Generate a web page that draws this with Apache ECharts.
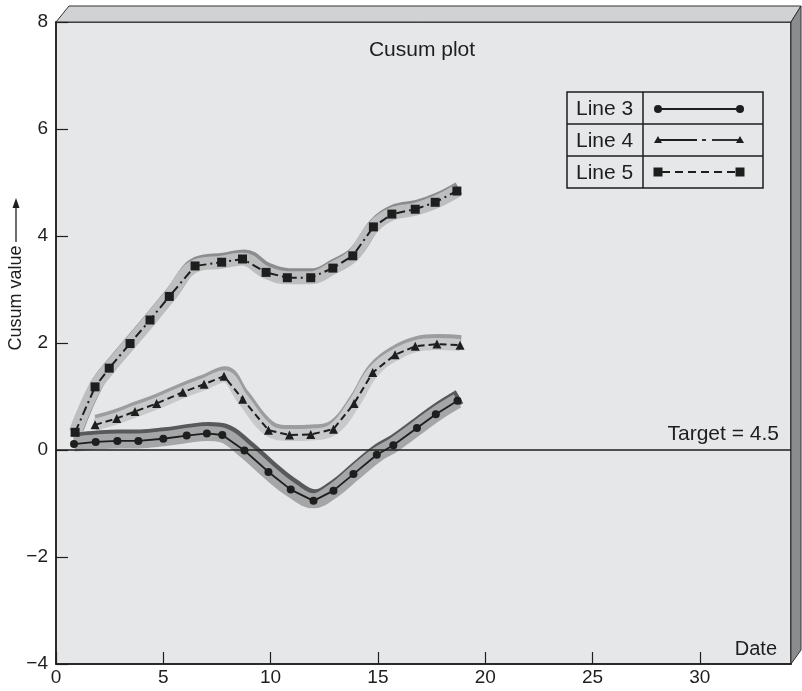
<!DOCTYPE html>
<html><head><meta charset="utf-8">
<script src="https://cdn.jsdelivr.net/npm/echarts@6/dist/echarts.min.js"></script>
<style>html,body{margin:0;padding:0;background:#fff}#c{width:802px;height:691px}</style>
</head><body><div id="c"></div>
<script>
// ---- data ----
const xTickValues = [0, 5, 10, 15, 20, 25, 30];
const yTickValues = [-4, -2, 0, 2, 4, 6, 8];
const line3 = [[0.84,0.11],[1.85,0.15],[2.86,0.17],[3.84,0.17],[5.0,0.21],[6.09,0.27],[7.03,0.31],[7.75,0.28],[8.78,-0.01],[9.9,-0.41],[10.94,-0.74],[12.0,-0.95],[12.93,-0.76],[13.86,-0.45],[14.95,-0.09],[15.72,0.09],[16.82,0.41],[17.7,0.67],[18.71,0.92]];
const line4 = [[1.82,0.47],[2.83,0.59],[3.68,0.72],[4.69,0.87],[5.91,1.08],[6.9,1.23],[7.83,1.38],[8.7,0.95],[9.9,0.37],[10.88,0.28],[11.87,0.29],[12.93,0.39],[13.89,0.87],[14.76,1.45],[15.8,1.78],[16.74,1.94],[17.75,1.98],[18.83,1.96]];
const line5 = [[0.89,0.33],[1.82,1.18],[2.48,1.53],[3.45,1.99],[4.38,2.43],[5.28,2.87],[6.48,3.44],[7.72,3.51],[8.69,3.57],[9.79,3.32],[10.78,3.22],[11.87,3.22],[12.9,3.4],[13.83,3.63],[14.79,4.17],[15.65,4.41],[16.74,4.5],[17.67,4.63],[18.68,4.84]];
const targetValue = 0;
const targetLabel = 'Target = 4.5';
const seriesNames = ['Line 3', 'Line 4', 'Line 5'];

const FONT = "'Liberation Sans', Arial, 'DejaVu Sans', sans-serif";
const INK = '#1e1e1e';
const chart = echarts.init(document.getElementById('c'), null, {renderer: 'canvas'});

function band(data, width, color, shadow, ox, oy) {
  return {
    type: 'line', data: data, smooth: 0.4, symbol: 'none', silent: true, z: 1,
    lineStyle: {width: width, color: color, cap: 'butt', join: 'round',
      shadowColor: shadow, shadowBlur: 0, shadowOffsetX: ox, shadowOffsetY: oy},
    tooltip: {show: false}
  };
}

const legendG = [];
const LX = 567, LY = 92, LW = 196, RH = 32, DX = 643;
legendG.push({type:'rect', shape:{x:LX, y:LY, width:LW, height:RH*3}, style:{fill:'none', stroke:INK, lineWidth:1.5}, z:50});
legendG.push({type:'line', shape:{x1:DX, y1:LY, x2:DX, y2:LY+RH*3}, style:{stroke:INK, lineWidth:1.5}, z:50});
for (let i = 1; i < 3; i++) legendG.push({type:'line', shape:{x1:LX, y1:LY+RH*i, x2:LX+LW, y2:LY+RH*i}, style:{stroke:INK, lineWidth:1.5}, z:50});
seriesNames.forEach((n, i) => legendG.push({type:'text', x:576, y:LY+RH*i+RH/2+1, style:{text:n, font:'21px ' + FONT, fill:INK, textVerticalAlign:'middle'}, z:50}));
// row 1: solid with circles
let ry = LY + 17;
legendG.push({type:'line', shape:{x1:658, y1:ry, x2:740, y2:ry}, style:{stroke:INK, lineWidth:1.8}, z:50});
legendG.push({type:'circle', shape:{cx:658, cy:ry, r:4}, style:{fill:INK}, z:51});
legendG.push({type:'circle', shape:{cx:740, cy:ry, r:4}, style:{fill:INK}, z:51});
// row 2: dash-dot with triangles
ry = LY + RH + 16;
[[658,697],[702,706],[712,740]].forEach(s => legendG.push({type:'line', shape:{x1:s[0], y1:ry, x2:s[1], y2:ry}, style:{stroke:INK, lineWidth:1.8}, z:50}));
[658, 740].forEach(cx => legendG.push({type:'polygon', shape:{points:[[cx-4,ry+3],[cx+4,ry+3],[cx,ry-4]]}, style:{fill:INK}, z:51}));
// row 3: dashed with squares
ry = LY + RH*2 + 16;
legendG.push({type:'line', shape:{x1:662, y1:ry, x2:736, y2:ry}, style:{stroke:INK, lineWidth:1.8, lineDash:[8,5]}, z:50});
[658, 740].forEach(cx => legendG.push({type:'rect', shape:{x:cx-4.5, y:ry-4.5, width:9, height:9}, style:{fill:INK}, z:51}));

const option = {
  animation: false,
  backgroundColor: '#ffffff',
  grid: {left: 56, top: 22, width: 735, height: 642, show: true, backgroundColor: '#e6e7e8',
         borderColor: INK, borderWidth: 1.5, outerBoundsMode: 'none', containLabel: false},
  xAxis: {
    type: 'value', min: 0, max: 34.25, interval: 5,
    axisLine: {show: true, onZero: false, lineStyle: {color: INK, width: 1.5}},
    axisTick: {show: true, inside: true, length: 12, lineStyle: {color: INK, width: 1.2},
      customValues: xTickValues},
    axisLabel: {color: INK, fontSize: 19, fontFamily: FONT, margin: 4,
      customValues: xTickValues},
    splitLine: {show: false}
  },
  yAxis: {
    type: 'value', min: -4, max: 8, interval: 2,
    axisLine: {show: true, onZero: false, lineStyle: {color: INK, width: 1.5}},
    axisTick: {show: true, inside: true, length: 12, lineStyle: {color: INK, width: 1.2},
      customValues: yTickValues},
    axisLabel: {color: INK, fontSize: 19, fontFamily: FONT, margin: 8,
      customValues: yTickValues,
      formatter: v => String(v).replace('-', '\u2212')},
    splitLine: {show: false}
  },
  series: [
    band(line5, 13, '#bdbebf', '#8c8d8e', 2, -3),
    band(line4, 12, '#c8c9ca', '#9c9d9e', 1, -4),
    band(line3, 15, '#a5a6a7', '#58595a', 2, -4),
    {
      name: seriesNames[0], type: 'line', data: line3, z: 5,
      symbol: 'circle', symbolSize: 8, itemStyle: {color: INK},
      lineStyle: {color: INK, width: 1.8},
      markLine: {
        silent: true, symbol: 'none', z: 4,
        lineStyle: {color: INK, width: 1.5, type: 'solid'},
        label: {show: true, position: 'insideEndTop', formatter: targetLabel, color: INK,
          fontSize: 21, fontFamily: FONT, distance: [12, 5]},
        data: [{yAxis: targetValue}]
      }
    },
    {
      name: seriesNames[1], type: 'line', data: line4, z: 5,
      symbol: 'triangle', symbolSize: 9, itemStyle: {color: INK},
      lineStyle: {color: INK, width: 2, type: [7, 4]}
    },
    {
      name: seriesNames[2], type: 'line', data: line5, z: 5,
      symbol: 'rect', symbolSize: 9, itemStyle: {color: INK},
      lineStyle: {color: INK, width: 2, type: [9, 4, 2, 4]}
    }
  ],
  graphic: [
    {type:'polygon', shape:{points:[[56,22],[69,6],[801,6],[791,22]]}, style:{fill:'#d1d2d4', stroke:'#333', lineWidth:1}, z:0},
    {type:'polygon', shape:{points:[[791,22],[801,6],[801,650],[791,664]]}, style:{fill:'#8b8c8e', stroke:'#333', lineWidth:1}, z:0},
    {type:'text', x:422, y:50, style:{text:'Cusum plot', font:'21px ' + FONT, fill:INK, textAlign:'center', textVerticalAlign:'middle'}, z:50},
    {type:'text', x:777, y:649, style:{text:'Date', font:'20px ' + FONT, fill:INK, textAlign:'right', textVerticalAlign:'middle'}, z:50},
    {type:'text', x:16, y:298, rotation:Math.PI/2, style:{text:'Cusum value', font:'18px ' + FONT, fill:INK, textAlign:'center', textVerticalAlign:'middle'}, z:50},
    {type:'line', shape:{x1:16, y1:242, x2:16, y2:206}, style:{stroke:INK, lineWidth:1.3}, z:50},
    {type:'polygon', shape:{points:[[12.5,208],[19.5,208],[16,198]]}, style:{fill:INK}, z:50}
  ].concat(legendG)
};
chart.setOption(option);
</script></body></html>
